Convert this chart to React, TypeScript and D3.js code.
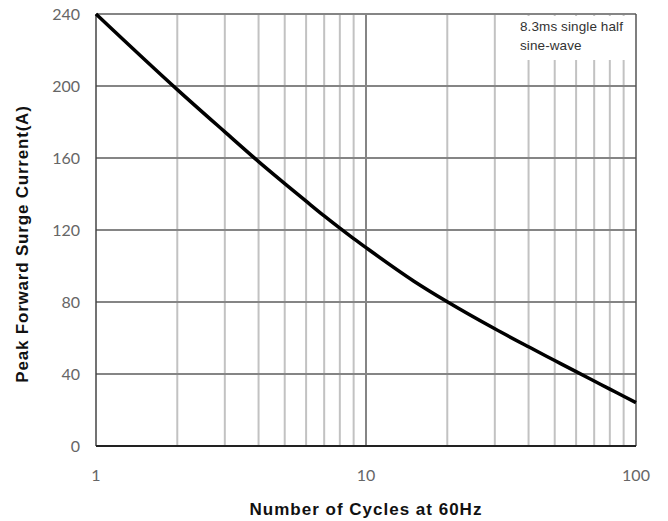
import React from 'react';
import * as d3 from 'd3';

// Surge current vs. number of cycles
const cycles = [1, 2, 3, 4, 5, 6, 7, 8, 9, 10, 15, 20, 30, 40, 50, 60, 70, 80, 90, 100];
const current = [240, 198, 174.5, 158, 145.8, 136, 127.8, 121, 115.2, 110.2, 91.7, 80.1, 65.1, 55.1, 47.5, 41.3, 36.1, 31.6, 27.6, 24.1];

const yTicks = [0, 40, 80, 120, 160, 200, 240];
const xTickLabels = [1, 10, 100];
const minorCycles = [2, 3, 4, 5, 6, 7, 8, 9, 20, 30, 40, 50, 60, 70, 80, 90];
const noteLines = ['8.3ms single half', 'sine-wave'];

const W = 668, H = 521;
const M = { left: 96, right: 636, top: 14, bottom: 446 };

const App: React.FC = () => {
  const x = d3.scaleLog().domain([1, 100]).range([M.left, M.right]);
  const y = d3.scaleLinear().domain([0, 240]).range([M.bottom, M.top]);

  const line = d3.line<number>()
    .x((_, i) => x(cycles[i]))
    .y((d) => y(d))
    .curve(d3.curveMonotoneX);

  const tickFont = 'Lato, "Open Sans", sans-serif';
  const boldFont = '"Liberation Sans", Arial, sans-serif';

  return (
    <svg width={W} height={H} style={{ position: 'absolute', left: 0, top: 0, background: '#fff' }}>
      {/* vertical grid */}
      {minorCycles.map((c) => (
        <line key={'v' + c} x1={x(c)} x2={x(c)} y1={M.top} y2={M.bottom} stroke="#c2c2c2" strokeWidth={2} />
      ))}
      <line x1={x(10)} x2={x(10)} y1={M.top} y2={M.bottom} stroke="#858585" strokeWidth={2} />

      {/* horizontal grid */}
      {yTicks.filter((t) => t > 0).map((t) => (
        <line key={'h' + t} x1={M.left} x2={M.right} y1={y(t)} y2={y(t)} stroke="#858585" strokeWidth={2} />
      ))}

      {/* note box */}
      <rect x={503} y={16} width={130} height={44} fill="#fff" />
      {noteLines.map((s, i) => (
        <text key={s} x={520} y={31 + i * 19} fontSize={13.5} fontFamily={boldFont} fill="#333" letterSpacing={0.1}>
          {s}
        </text>
      ))}

      {/* frame */}
      <line x1={M.left} x2={M.left} y1={M.top} y2={M.bottom} stroke="#444" strokeWidth={1.5} />
      <line x1={M.right} x2={M.right} y1={M.top} y2={M.bottom} stroke="#555" strokeWidth={1.5} />
      <line x1={M.left} x2={M.right} y1={M.bottom} y2={M.bottom} stroke="#222" strokeWidth={1.8} />

      {/* curve */}
      <path d={line(current) ?? ''} fill="none" stroke="#000" strokeWidth={3.5} strokeLinejoin="round" />

      {/* y tick labels */}
      {yTicks.map((t) => (
        <text key={'yl' + t} x={80} y={y(t)} dy="0.35em" textAnchor="end" fontSize={16} fontFamily={tickFont} fill="#666">
          {t}
        </text>
      ))}

      {/* x tick labels */}
      {xTickLabels.map((t) => (
        <text key={'xl' + t} x={x(t)} y={481} textAnchor="middle" fontSize={16} fontFamily={tickFont} fill="#666">
          {t}
        </text>
      ))}

      {/* axis titles */}
      <text x={366} y={515} textAnchor="middle" fontSize={17} fontWeight="bold" fontFamily={boldFont} fill="#111" letterSpacing={1}>
        Number of Cycles at 60Hz
      </text>
      <text
        transform={`translate(28, 244) rotate(-90)`}
        textAnchor="middle"
        fontSize={17}
        fontWeight="bold"
        fontFamily={boldFont}
        fill="#111"
        letterSpacing={0.8}
      >
        Peak Forward Surge Current(A)
      </text>
    </svg>
  );
};

export default App;
